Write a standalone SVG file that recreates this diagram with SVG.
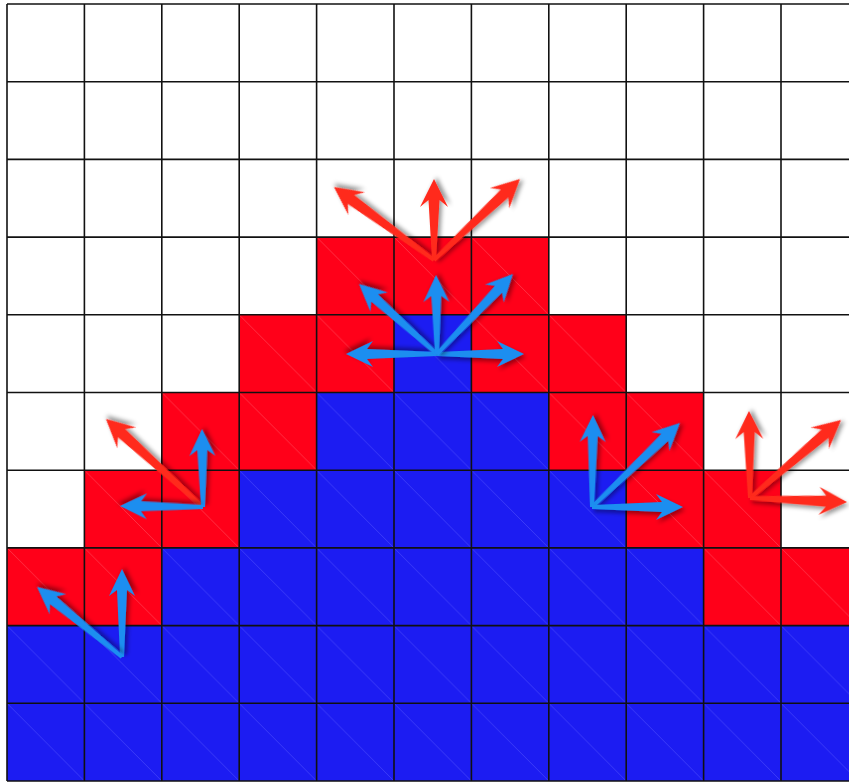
<svg xmlns="http://www.w3.org/2000/svg" width="849" height="783" viewBox="0 0 849 783">
<defs>
<pattern id="pr" x="7" y="4" width="77.4" height="77.7" patternUnits="userSpaceOnUse"><rect width="77.4" height="77.7" fill="#ff0019"/><line x1="0" y1="0" x2="77.4" y2="77.7" stroke="#ff6070" stroke-width="0.8" opacity="0.6"/></pattern>
<pattern id="pb" x="7" y="4" width="77.4" height="77.7" patternUnits="userSpaceOnUse"><rect width="77.4" height="77.7" fill="#1c1cf2"/><line x1="0" y1="0" x2="77.4" y2="77.7" stroke="#5a5aff" stroke-width="0.8" opacity="0.6"/></pattern>
<filter id="sh" x="-20%" y="-20%" width="140%" height="140%"><feDropShadow dx="2" dy="3" stdDeviation="2.2" flood-color="#000" flood-opacity="0.4"/></filter>
</defs>
<style>
.red{fill:url(#pr)}
.blue{fill:url(#pb)}
.grid line{stroke:#111;stroke-width:1.6}
.ar{fill:#ff2a1c;filter:url(#sh)}
.ab{fill:#1a8ef0;filter:url(#sh)}
</style>
<rect width="849" height="783" fill="#fff"/>
<g id="cells">
<rect class="red" x="316.6" y="237.1" width="232.2" height="77.7"/>
<rect class="red" x="239.2" y="314.8" width="154.8" height="77.7"/>
<rect class="blue" x="394" y="314.8" width="77.4" height="77.7"/>
<rect class="red" x="471.4" y="314.8" width="154.8" height="77.7"/>
<rect class="red" x="161.8" y="392.5" width="154.8" height="77.7"/>
<rect class="blue" x="316.6" y="392.5" width="232.2" height="77.7"/>
<rect class="red" x="548.8" y="392.5" width="154.8" height="77.7"/>
<rect class="red" x="84.4" y="470.2" width="154.8" height="77.7"/>
<rect class="blue" x="239.2" y="470.2" width="387" height="77.7"/>
<rect class="red" x="626.2" y="470.2" width="154.8" height="77.7"/>
<rect class="red" x="7" y="547.9" width="154.8" height="77.7"/>
<rect class="blue" x="161.8" y="547.9" width="541.8" height="77.7"/>
<rect class="red" x="703.6" y="547.9" width="160" height="77.7"/>
<rect class="blue" x="7" y="625.6" width="850" height="155.4"/>
</g>
<g id="grid" class="grid">
<line x1="7" y1="4" x2="7" y2="781"/>
<line x1="84.4" y1="4" x2="84.4" y2="781"/>
<line x1="161.8" y1="4" x2="161.8" y2="781"/>
<line x1="239.2" y1="4" x2="239.2" y2="781"/>
<line x1="316.6" y1="4" x2="316.6" y2="781"/>
<line x1="394" y1="4" x2="394" y2="781"/>
<line x1="471.4" y1="4" x2="471.4" y2="781"/>
<line x1="548.8" y1="4" x2="548.8" y2="781"/>
<line x1="626.2" y1="4" x2="626.2" y2="781"/>
<line x1="703.6" y1="4" x2="703.6" y2="781"/>
<line x1="781" y1="4" x2="781" y2="781"/>
<line x1="7" y1="4" x2="849" y2="4"/>
<line x1="7" y1="81.7" x2="849" y2="81.7"/>
<line x1="7" y1="159.4" x2="849" y2="159.4"/>
<line x1="7" y1="237.1" x2="849" y2="237.1"/>
<line x1="7" y1="314.8" x2="849" y2="314.8"/>
<line x1="7" y1="392.5" x2="849" y2="392.5"/>
<line x1="7" y1="470.2" x2="849" y2="470.2"/>
<line x1="7" y1="547.9" x2="849" y2="547.9"/>
<line x1="7" y1="625.6" x2="849" y2="625.6"/>
<line x1="7" y1="703.3" x2="849" y2="703.3"/>
<line x1="7" y1="781" x2="849" y2="781"/>
</g>
<g id="connectors">
<g id="red-top" transform="translate(434,260)">
<path class="ar" transform="rotate(-143.9)" d="M0,-2 L102.8,-5.5 L95.8,-14 L123.8,0 L95.8,14 L102.8,5.5 L0,2 Z"/>
<path class="ar" transform="rotate(-90)" d="M0,-2 L60,-5.5 L53,-14 L81,0 L53,14 L60,5.5 L0,2 Z"/>
<path class="ar" transform="rotate(-43.3)" d="M0,-2 L97.1,-5.5 L90.1,-14 L118.1,0 L90.1,14 L97.1,5.5 L0,2 Z"/>
</g>
<g id="blue-center" transform="translate(437,354)">
<path class="ab" transform="rotate(180)" d="M0,-2 L70,-5 L64,-13 L91,0 L64,13 L70,5 L0,2 Z"/>
<path class="ab" transform="rotate(0)" d="M0,-2 L66,-5 L60,-13 L87,0 L60,13 L66,5 L0,2 Z"/>
<path class="ab" transform="rotate(-138.1)" d="M0,-2 L83.8,-5 L77.8,-13 L104.8,0 L77.8,13 L83.8,5 L0,2 Z"/>
<path class="ab" transform="rotate(-90.7)" d="M0,-2 L58,-5 L52,-13 L79,0 L52,13 L58,5 L0,2 Z"/>
<path class="ab" transform="rotate(-46.5)" d="M0,-2 L89.3,-5 L83.3,-13 L110.3,0 L83.3,13 L89.3,5 L0,2 Z"/>
</g>
<g id="left-group" transform="translate(203,507)">
<path class="ar" transform="rotate(-137.8)" d="M0,-2 L110,-5.5 L103,-14 L131,0 L103,14 L110,5.5 L0,2 Z"/>
<path class="ab" transform="rotate(-90.7)" d="M0,-2 L57,-5 L51,-13 L78,0 L51,13 L57,5 L0,2 Z"/>
<path class="ab" transform="rotate(-179.3)" d="M0,-2 L62,-5 L56,-13 L83,0 L56,13 L62,5 L0,2 Z"/>
</g>
<g id="right-blue" transform="translate(592,507)">
<path class="ab" transform="rotate(-89.4)" d="M0,-2 L71,-5 L65,-13 L92,0 L65,13 L71,5 L0,2 Z"/>
<path class="ab" transform="rotate(-43.7)" d="M0,-2 L100.7,-5 L94.7,-13 L121.7,0 L94.7,13 L100.7,5 L0,2 Z"/>
<path class="ab" transform="rotate(0)" d="M0,-2 L70,-5 L64,-13 L91,0 L64,13 L70,5 L0,2 Z"/>
</g>
<g id="right-red" transform="translate(750,498)">
<path class="ar" transform="rotate(-90.7)" d="M0,-2 L66,-5.5 L59,-14 L87,0 L59,14 L66,5.5 L0,2 Z"/>
<path class="ar" transform="rotate(-40.6)" d="M0,-2 L98.9,-5.5 L91.9,-14 L119.9,0 L91.9,14 L98.9,5.5 L0,2 Z"/>
<path class="ar" transform="rotate(2.4)" d="M0,-2 L76.1,-5.5 L69.1,-14 L97.1,0 L69.1,14 L76.1,5.5 L0,2 Z"/>
</g>
<g id="bottom-left" transform="translate(122,657)">
<path class="ab" transform="rotate(-90)" d="M0,-2 L67,-5 L61,-13 L88,0 L61,13 L67,5 L0,2 Z"/>
<path class="ab" transform="rotate(-140.5)" d="M0,-2 L89.1,-5 L83.1,-13 L110.1,0 L83.1,13 L89.1,5 L0,2 Z"/>
</g>
</g>
</svg>
